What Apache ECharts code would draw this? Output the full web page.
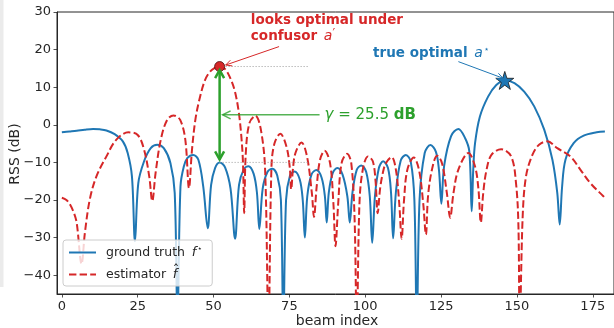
<!DOCTYPE html>
<html>
<head>
<meta charset="utf-8">
<script src="https://cdn.jsdelivr.net/npm/echarts@6/dist/echarts.min.js"></script>
<style>
  html, body { margin: 0; padding: 0; background: #ffffff; }
  #chart { width: 614px; height: 328px; }
</style>
</head>
<body>
<div id="chart"></div>
<script>
// Ground-truth beam pattern f* (RSS in dB per beam index)
const truthBeam = [0, 2.5, 4.9, 7.5, 10.3, 12.5, 14.7, 17.4, 20.1, 21.7,
  23.1, 24.1, 25.2, 27.1, 29.3, 31.4, 33.6, 35.8, 37.2, 38.1,
  39.1, 40.2, 41.4, 43.3, 45.0, 46.6, 48.1, 49.2, 50.5, 52,
  53.8, 55.6, 57.1, 58.4, 60, 61.5, 63.2, 64.3, 65.1, 66.2,
  67.8, 69.4, 71, 72.2, 73, 73.9, 75.2, 76.7, 78.4, 79.4,
  80.1, 80.9, 82.3, 83.9, 85.6, 86.7, 87.3, 88, 89.3, 90.8,
  92.5, 94.1, 94.9, 95.8, 97.2, 98.7, 100.3, 101.5, 102.3, 103.2,
  104.5, 105.9, 107.5, 108.5, 109.2, 110.1, 111.7, 113.4, 115, 116.2,
  117, 117.9, 119.6, 121.5, 123.3, 124.3, 125.1, 126, 128.3, 130.7,
  132.9, 134.3, 135.1, 135.6, 136.2, 137.8, 140.5, 143.2, 146, 149.2,
  152.4, 155.7, 159, 161.7, 163.3, 164.1, 164.9, 166, 168.7, 172,
  176.3, 179];
const truthRss = [-2.0, -1.8, -1.6, -1.3, -1.1, -1.2, -1.5, -2.5, -4.4, -7.5,
  -13.7, -31, -15.5, -9.7, -6.2, -5.3, -6.2, -10.2, -18.1, -52,
  -16.4, -11.1, -8.8, -8.0, -9.3, -16.4, -27.5, -16, -11.5, -10.0,
  -11.3, -17, -30.3, -16, -11.8, -11.0, -13, -18, -27.7, -17,
  -12.5, -11.7, -13.5, -20, -55, -20, -13.5, -12.4, -14.5, -20,
  -30, -19, -13.2, -12.0, -14, -19, -26, -18, -12.8, -11.5,
  -13.2, -19, -26, -18, -12, -10.8, -12.5, -19, -31.4, -19,
  -11.5, -9.7, -11.5, -18, -30.2, -18, -9.5, -8.0, -9.8, -20,
  -55, -20, -7.5, -5.4, -7.2, -12, -21, -11, -3.0, -1.1,
  -3.5, -7, -23, -12, -4.9, 2.2, 7.5, 10.6, 11.8, 11.1,
  8.8, 4.9, -1.3, -9.3, -18.1, -26.5, -16.4, -9.3, -4.9, -2.9,
  -2.0, -1.8];

// Estimated beam pattern f-hat
const estBeam = [0, 1.5, 2.7, 4.0, 4.9, 6.5, 7.6, 9.2, 11.4, 14.7,
  17.9, 21.9, 25, 27.1, 28.8, 29.8, 30.9, 32.6, 34.7, 36.8,
  39.0, 40.7, 41.9, 42.9, 44.0, 45.3, 47, 48.5, 50.3, 52.0,
  53.7, 55.3, 56.9, 58.2, 59.1, 59.7, 60.1, 60.6, 61.8, 63.8,
  65.6, 67.0, 68.1, 69.1, 70.1, 72.0, 74.0, 75.1, 75.6, 76.2,
  77.0, 79.0, 80.8, 82.4, 83.1, 84.0, 85.1, 86.6, 88.4, 89.5,
  90.2, 91.1, 92.2, 94.0, 95.4, 96.5, 97.2, 98.1, 99.2, 100.9,
  102.5, 103.4, 104.1, 104.9, 105.8, 106.8, 108.7, 110.1, 111.2, 112.0,
  112.8, 113.9, 116.0, 117.7, 119.1, 120.0, 120.7, 122.0, 123.7, 125.3,
  126.9, 128.0, 129.1, 130.7, 134.0, 136.2, 137.3, 138.1, 138.9, 140.0,
  141.6, 144.8, 148.1, 149.7, 150.5, 150.9, 151.9, 153.0, 155.1, 157.3,
  160.0, 163.3, 167.6, 170.9, 174.2, 178.5, 179];
const estRss = [-19.4, -20, -21.2, -23.5, -26.1, -37, -28.7, -19.9, -13.7, -8.4,
  -4.0, -2.0, -2.7, -6.6, -13.7, -20.3, -12.8, -4.0, 1.3, 2.5,
  1.3, -4.0, -16.8, -6.6, 1.3, 6.6, 11.5, 13.8, 15.1, 15.5,
  14.9, 12.8, 9.3, 4.0, -2.5, -10, -23.5, -8, 0.4, 2.4,
  -1.3, -12, -55, -11.1, -4.9, -2.4, -5.7, -11.1, -17.2, -11.5,
  -7.5, -4.7, -8.4, -18.1, -24.5, -16.4, -9.3, -6.9, -10.2, -20.8,
  -32.3, -20.8, -10.2, -7.7, -10.2, -25.2, -55, -20.8, -11.9, -8.4,
  -9.7, -15, -23.5, -17, -12.8, -10.2, -8.6, -11.9, -20.8, -30.3,
  -19.9, -11.9, -8.7, -11.9, -20.8, -29.2, -19, -11.9, -8.2, -10.2,
  -18.1, -24.7, -18.1, -11.9, -7.5, -11.1, -17, -26, -18.1, -11.9,
  -8.0, -6.5, -8.4, -15.5, -27, -55, -24.3, -13.7, -8.0, -5.3,
  -4.4, -6.2, -8.4, -11.9, -15.5, -19, -19.4];

// Highlighted beams
const confusorBeam = 52, confusorRss = 15.5;   // argmax of the estimator, a'
const optimalBeam = 146, optimalRss = 11.8;    // argmax of the ground truth, a*
const guideEndBeam = 81.5;

// Axis ticks
const xTicks = [0, 25, 50, 75, 100, 125, 150, 175];
const yTicks = [-40, -30, -20, -10, 0, 10, 20, 30];

const FONT = 'DejaVu Sans';
const BLUE = '#1f77b4', RED = '#d62728', GREEN = '#2ca02c', INK = '#262626';

const zip = (a, b) => a.map((v, i) => [v, b[i]]);
const truthAtConfusor = truthRss[truthBeam.indexOf(confusorBeam)];
const gamma = confusorRss - truthAtConfusor;

const starPath = 'path://M50,0L61.8,35.3L98.9,35.3L68.9,57.1L80.3,92.7L50,70.7L19.7,92.7L31.1,57.1L1.1,35.3L38.2,35.3Z';

const chart = echarts.init(document.getElementById('chart'), null, { renderer: 'canvas' });

const tickLabel = { fontFamily: FONT, fontSize: 13, color: INK };

chart.setOption({
  animation: false,
  grid: { left: 57, top: 12, width: 564, height: 282, show: true, borderColor: INK, borderWidth: 1 },
  xAxis: {
    type: 'value', min: -1.6, max: 182,
    axisLine: { show: true, onZero: false, lineStyle: { color: INK, width: 1 } },
    axisTick: { show: true, length: 3.5, customValues: xTicks, lineStyle: { color: INK, width: 0.8 } },
    axisLabel: Object.assign({ customValues: xTicks, margin: 6 }, tickLabel),
    splitLine: { show: false }
  },
  yAxis: {
    type: 'value', min: -45, max: 30,
    axisLine: { show: true, onZero: false, lineStyle: { color: INK, width: 1 } },
    axisTick: { show: true, length: 3.5, customValues: yTicks, lineStyle: { color: INK, width: 0.8 } },
    axisLabel: Object.assign({ customValues: yTicks, margin: 6,
      formatter: v => String(v).replace('-', '\u2212') }, tickLabel),
    splitLine: { show: false }
  },
  legend: {
    data: ['ground truth', 'estimator'],
    orient: 'vertical', left: 63, top: 240,
    padding: [5, 10, 5, 5],
    itemWidth: 27, itemHeight: 14, itemGap: 9,
    itemStyle: { opacity: 0 },
    backgroundColor: 'rgba(255,255,255,0.8)',
    borderColor: '#cccccc', borderWidth: 1, borderRadius: 3,
    formatter: n => n === 'ground truth'
      ? '{t|ground truth}  {i|f}{s|\u22c6}'
      : '{t|estimator}  {i|f}',
    textStyle: {
      padding: [0, 0, 0, 5],
      rich: {
        t: { fontFamily: FONT, fontSize: 12.5, color: INK },
        i: { fontFamily: FONT, fontStyle: 'italic', fontSize: 13, color: INK },
        s: { fontFamily: FONT, fontSize: 8, color: INK, padding: [0, 0, 7, 1] }
      }
    }
  },
  series: [
    {
      name: 'ground truth', type: 'line', data: zip(truthBeam, truthRss),
      symbol: 'none', smooth: 0.35, z: 2,
      lineStyle: { color: BLUE, width: 2 }, itemStyle: { color: BLUE }
    },
    {
      name: 'estimator', type: 'line', data: zip(estBeam, estRss),
      symbol: 'none', smooth: 0.35, z: 3,
      lineStyle: { color: RED, width: 2, type: [7.4, 3.2] }, itemStyle: { color: RED }
    },
    {
      name: 'confusor level', type: 'line', silent: true, symbol: 'none', z: 4,
      data: [[confusorBeam, confusorRss], [guideEndBeam, confusorRss]],
      lineStyle: { color: '#9a9a9a', width: 1, type: [1, 2] }
    },
    {
      name: 'truth level', type: 'line', silent: true, symbol: 'none', z: 4,
      data: [[confusorBeam, truthAtConfusor], [guideEndBeam, truthAtConfusor]],
      lineStyle: { color: '#9a9a9a', width: 1, type: [1, 2] }
    },
    {
      name: 'confusor', type: 'scatter', z: 10, symbol: 'circle', symbolSize: 10,
      data: [[confusorBeam, confusorRss]],
      itemStyle: { color: RED, borderColor: '#4a0c0c', borderWidth: 0.8, opacity: 1 }
    },
    {
      name: 'optimal', type: 'scatter', z: 10, symbol: starPath, symbolSize: 18,
      data: [[optimalBeam, optimalRss]],
      itemStyle: { color: BLUE, borderColor: '#1a1a1a', borderWidth: 0.8, opacity: 1 }
    }
  ]
});

// ---- annotations (arrows and labels placed in data coordinates) ----
const toPx = (b, v) => chart.convertToPixel({ gridIndex: 0 }, [b, v]);

function arrowHead(tip, from, color, width, len, half, opacity) {
  const dx = tip[0] - from[0], dy = tip[1] - from[1];
  const L = Math.hypot(dx, dy), ux = dx / L, uy = dy / L;
  const bx = tip[0] - ux * len, by = tip[1] - uy * len;
  return {
    type: 'polyline', z: 50,
    shape: { points: [[bx - uy * half, by + ux * half], tip, [bx + uy * half, by - ux * half]] },
    style: { stroke: color, lineWidth: width, fill: null, lineJoin: 'miter', opacity: opacity }
  };
}
function segment(a, b, color, width, opacity) {
  return {
    type: 'line', z: 50,
    shape: { x1: a[0], y1: a[1], x2: b[0], y2: b[1] },
    style: { stroke: color, lineWidth: width, opacity: opacity }
  };
}

const els = [];

// light strip along the left border
els.push({ type: 'rect', z: 0, shape: { x: 0, y: 0, width: 3.5, height: 287 }, style: { fill: '#ebebeb' } });

// gap arrow between estimator peak and ground truth at a'
const gTop = toPx(confusorBeam, confusorRss), gBot = toPx(confusorBeam, truthAtConfusor);
const gA = [gTop[0], gTop[1] + 3.5], gB = [gBot[0], gBot[1] - 3];
els.push(segment(gA, gB, GREEN, 2.5, 1));
els.push(arrowHead(gA, gB, GREEN, 2.5, 8, 4.5, 1));
els.push(arrowHead(gB, gA, GREEN, 2.5, 8, 4.5, 1));

// gamma label and its pointer
const gammaLabelBeam = 86.6, gammaLabelRss = 2.65;
const gl = toPx(gammaLabelBeam, gammaLabelRss);
const hpStart = [gl[0] - 5, gl[1]], hpEnd = [gA[0] + 3, gl[1]];
els.push(segment(hpStart, hpEnd, GREEN, 1.5, 0.8));
els.push(arrowHead(hpEnd, hpStart, GREEN, 1.5, 8, 4, 0.8));
els.push({
  type: 'text', z: 60, x: gl[0], y: gl[1],
  style: {
    text: '{g|\u03b3}{n| = ' + gamma.toFixed(1) + ' }{b|dB}',
    verticalAlign: 'middle', align: 'left',
    rich: {
      g: { fontFamily: FONT, fontStyle: 'italic', fontSize: 15, fill: GREEN },
      n: { fontFamily: FONT, fontSize: 15, fill: GREEN },
      b: { fontFamily: FONT, fontWeight: 'bold', fontSize: 15, fill: GREEN }
    }
  }
});

// confusor caption and arrow
const c1 = toPx(62.3, 27.8), c2 = toPx(62.3, 23.6);
els.push({
  type: 'text', z: 60, x: c1[0], y: c1[1],
  style: { text: 'looks optimal under', fontFamily: FONT, fontWeight: 'bold', fontSize: 13.5,
    fill: RED, verticalAlign: 'middle', align: 'left' }
});
els.push({
  type: 'text', z: 60, x: c2[0], y: c2[1],
  style: {
    text: '{b|confusor}  {i|a}{p|\u2032}', verticalAlign: 'middle', align: 'left',
    rich: {
      b: { fontFamily: FONT, fontWeight: 'bold', fontSize: 13.5, fill: RED },
      i: { fontFamily: FONT, fontStyle: 'italic', fontSize: 14, fill: RED },
      p: { fontFamily: FONT, fontSize: 12, fill: RED, padding: [0, 0, 5, 0] }
    }
  }
});
const ra = toPx(71.6, 20.8), rb = toPx(54.0, 15.9);
els.push(segment(ra, rb, RED, 1, 1));
els.push(arrowHead(rb, ra, RED, 1, 6, 3, 1));

// true optimum caption and arrow
const t1 = toPx(102.6, 19.0);
els.push({
  type: 'text', z: 60, x: t1[0], y: t1[1],
  style: {
    text: '{b|true optimal}  {i|a}{s|\u22c6}', verticalAlign: 'middle', align: 'left',
    rich: {
      b: { fontFamily: FONT, fontWeight: 'bold', fontSize: 13.5, fill: BLUE },
      i: { fontFamily: FONT, fontStyle: 'italic', fontSize: 14, fill: BLUE },
      s: { fontFamily: FONT, fontSize: 9, fill: BLUE, padding: [0, 0, 7, 1] }
    }
  }
});
const ba = toPx(130.7, 16.8), bb = toPx(145.4, 12.4);
els.push(segment(ba, bb, BLUE, 1, 1));
els.push(arrowHead(bb, ba, BLUE, 1, 6, 3, 1));

// axis titles
els.push({
  type: 'text', z: 60, x: 337, y: 321.5,
  style: { text: 'beam index', fontFamily: FONT, fontSize: 14, fill: INK, align: 'center', verticalAlign: 'middle' }
});
els.push({
  type: 'text', z: 60, x: 15, y: 154, rotation: Math.PI / 2,
  style: { text: 'RSS (dB)', fontFamily: FONT, fontSize: 14, fill: INK, align: 'center', verticalAlign: 'middle' }
});

chart.setOption({ graphic: { elements: els } });

// hat over the estimator's f in the legend
const lgText = chart.getZr().storage.getDisplayList().filter(e => e.style && typeof e.style.text === 'string' && e.style.text.indexOf('estimator') >= 0);
let hatX = 176, hatY = 266;
if (lgText.length) {
  const r = lgText[0].getBoundingRect();
  const tr = lgText[0].transform;
  const x0 = tr ? tr[4] : 0, y0 = tr ? tr[5] : 0;
  hatX = x0 + r.x + r.width + 10;
  hatY = y0 + r.y + 3;
}
els.push({
  type: 'text', z: 200, x: hatX, y: hatY,
  style: { text: '\u02c6', fontFamily: FONT, fontSize: 13, fill: INK, align: 'center', verticalAlign: 'middle' }
});
chart.setOption({ graphic: { elements: els } }, { replaceMerge: ['graphic'] });
</script>
</body>
</html>
